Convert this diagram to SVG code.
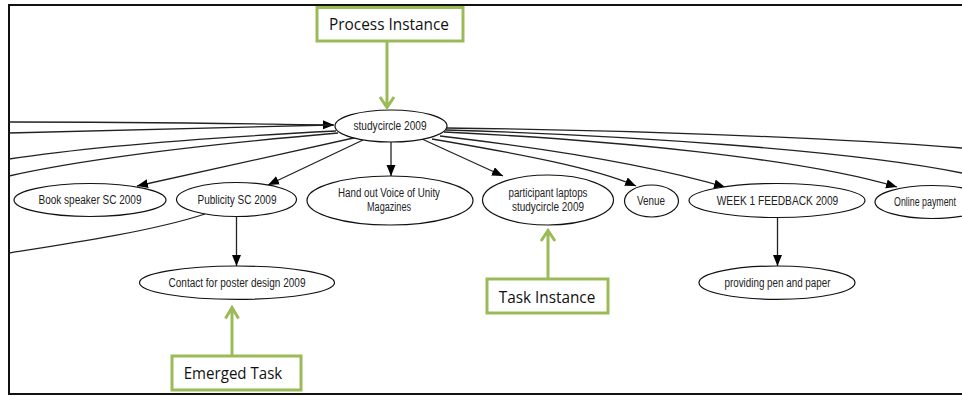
<svg xmlns="http://www.w3.org/2000/svg" width="962" height="396" viewBox="0 0 962 396">
<defs>
<marker id="ah" markerUnits="userSpaceOnUse" markerWidth="12" markerHeight="10" refX="11" refY="4.5" orient="auto">
<path d="M0,0 L11,4.5 L0,9 Z" fill="#000"/>
</marker>
<style>
.n ellipse{fill:#fff;stroke:#111;stroke-width:1.2}
.n text{font-family:"Liberation Sans",Arial,sans-serif;font-size:12px;fill:#222;text-anchor:middle}
.e path,.e line{fill:none;stroke:#222;stroke-width:1.3}
.arr{marker-end:url(#ah)}
.g rect{fill:#fff;stroke:#9BBB59;stroke-width:3}
.g text{font-family:"Open Sans","Noto Sans",sans-serif;font-size:16px;fill:#111;text-anchor:middle}
.g path{fill:none;stroke:#9BBB59;stroke-width:3}
</style>
</defs>
<rect x="0" y="0" width="962" height="396" fill="#fff"/>
<path d="M962,5 H9 V394 H962" fill="none" stroke="#111" stroke-width="2"/>

<g id="connectors" class="e">
<path class="arr" d="M9,122 C150,122 250,124 334,125"/>
<path d="M9,133 C150,129 250,126 330,125"/>
<path d="M336,131 C200,138 80,148 9,159"/>
<path d="M338,133 C200,145 80,160 9,176"/>
<path d="M205,214 C150,232 60,245 9,253"/>
<line class="arr" x1="358" y1="137" x2="137" y2="186"/>
<line class="arr" x1="363" y1="140" x2="268" y2="185"/>
<line class="arr" x1="391" y1="142" x2="391" y2="176"/>
<line class="arr" x1="422" y1="139" x2="503" y2="176"/>
<path class="arr" d="M432,139 C520,154 595,168 636,186"/>
<path class="arr" d="M440,136 C560,150 660,168 725,187"/>
<path class="arr" d="M444,132 C610,140 800,158 897,187"/>
<path d="M446,130 C620,135 850,150 962,173"/>
<path d="M446,128 C620,130 820,137 962,148"/>
<line class="arr" x1="236.5" y1="216.5" x2="236.5" y2="266"/>
<line class="arr" x1="777.5" y1="217.5" x2="777.5" y2="266"/>
</g>

<g id="studycircle" class="n"><ellipse cx="391" cy="126" rx="56" ry="16"/><text x="390" y="130" textLength="73" lengthAdjust="spacingAndGlyphs">studycircle 2009</text></g>
<g id="bookspeaker" class="n"><ellipse cx="90" cy="200" rx="76" ry="16.5"/><text x="90" y="204" textLength="103" lengthAdjust="spacingAndGlyphs">Book speaker SC 2009</text></g>
<g id="publicity" class="n"><ellipse cx="236.5" cy="199.5" rx="60" ry="17"/><text x="237" y="204" textLength="79" lengthAdjust="spacingAndGlyphs">Publicity SC 2009</text></g>
<g id="handout" class="n"><ellipse cx="390" cy="200.5" rx="83" ry="24.5"/><text x="389" y="196.5" textLength="102" lengthAdjust="spacingAndGlyphs">Hand out Voice of Unity</text><text x="389" y="210.5" textLength="44" lengthAdjust="spacingAndGlyphs">Magazines</text></g>
<g id="laptops" class="n"><ellipse cx="548" cy="200" rx="65.5" ry="25"/><text x="548" y="196.5" textLength="79" lengthAdjust="spacingAndGlyphs">participant laptops</text><text x="548" y="210.5" textLength="72" lengthAdjust="spacingAndGlyphs">studycircle 2009</text></g>
<g id="venue" class="n"><ellipse cx="651.5" cy="201" rx="27" ry="16"/><text x="651" y="205" textLength="28" lengthAdjust="spacingAndGlyphs">Venue</text></g>
<g id="week1" class="n"><ellipse cx="777" cy="200.5" rx="88" ry="17"/><text x="777.5" y="204.5" textLength="121.5" lengthAdjust="spacingAndGlyphs">WEEK 1 FEEDBACK 2009</text></g>
<g id="online" class="n"><ellipse cx="932" cy="202" rx="57" ry="16.5"/><text x="925" y="205.5" textLength="62" lengthAdjust="spacingAndGlyphs">Online payment</text></g>
<g id="contact" class="n"><ellipse cx="237" cy="282.7" rx="97.5" ry="16.7"/><text x="237" y="286.5" textLength="137" lengthAdjust="spacingAndGlyphs">Contact for poster design 2009</text></g>
<g id="pen" class="n"><ellipse cx="777" cy="282.7" rx="78" ry="16.7"/><text x="777.5" y="286.5" textLength="106" lengthAdjust="spacingAndGlyphs">providing pen and paper</text></g>

<g id="processInstance" class="g"><path d="M387,41 V107 M380,97 L387,107.5 L394,97"/><rect x="317" y="7.5" width="146" height="33.5"/><text x="389" y="30" textLength="120" lengthAdjust="spacingAndGlyphs">Process Instance</text></g>
<g id="taskInstance" class="g"><path d="M548,279 V231 M541,241 L548,230.5 L555,241"/><rect x="487" y="279" width="121" height="34"/><text x="547" y="302.5" textLength="96.5" lengthAdjust="spacingAndGlyphs">Task Instance</text></g>
<g id="emergedTask" class="g"><path d="M232,356 V308 M225.5,318.5 L232,307.5 L238.5,318.5"/><rect x="172" y="356" width="129" height="34"/><text x="233" y="379" textLength="98.5" lengthAdjust="spacingAndGlyphs">Emerged Task</text></g>
</svg>
